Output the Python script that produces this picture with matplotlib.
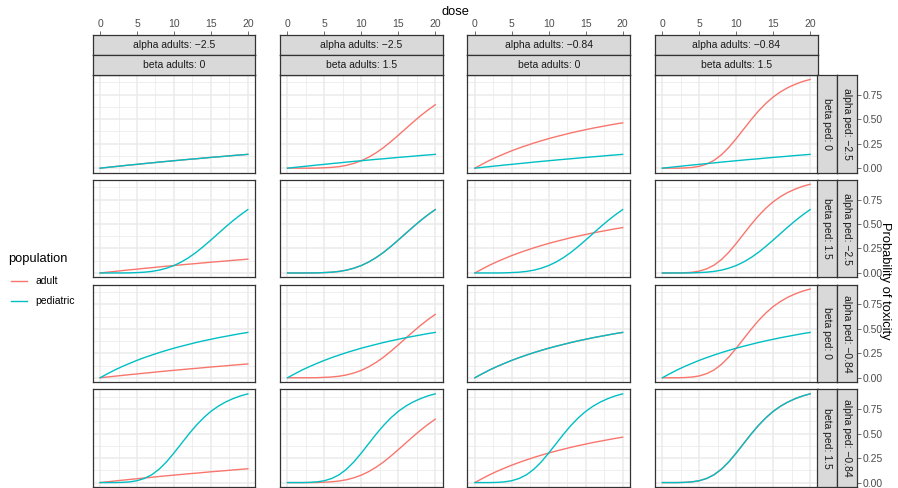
import numpy as np
import matplotlib.pyplot as plt
from matplotlib.lines import Line2D

plt.rcParams['font.family'] = ['Liberation Sans', 'DejaVu Sans']

# dose grid and toxicity curves for each (alpha, beta) combination
dose = list(range(0, 21))
p_a25_b0 = [0.000, 0.008, 0.016, 0.024, 0.032, 0.039, 0.047, 0.054, 0.062, 0.069, 0.076,
            0.083, 0.090, 0.096, 0.103, 0.110, 0.116, 0.122, 0.129, 0.135, 0.141]
p_a25_b15 = [0.000, 0.000, 0.000, 0.000, 0.001, 0.004, 0.008, 0.016, 0.029, 0.049, 0.076,
             0.112, 0.157, 0.210, 0.271, 0.336, 0.403, 0.470, 0.534, 0.593, 0.647]
p_a084_b0 = [0.000, 0.041, 0.080, 0.115, 0.147, 0.178, 0.206, 0.232, 0.257, 0.280, 0.302,
             0.322, 0.341, 0.360, 0.377, 0.393, 0.409, 0.423, 0.437, 0.451, 0.463]
p_a084_b15 = [0.000, 0.000, 0.000, 0.002, 0.007, 0.019, 0.042, 0.080, 0.137, 0.212, 0.302,
              0.398, 0.494, 0.583, 0.661, 0.727, 0.780, 0.823, 0.857, 0.885, 0.906]

alpha_levels = ['\u22122.5', '\u22122.5', '\u22120.84', '\u22120.84']
beta_levels = ['0', '1.5', '0', '1.5']
curves = [p_a25_b0, p_a25_b15, p_a084_b0, p_a084_b15]

adult_col = '#F8766D'
ped_col = '#00BFC4'
dark = '#333333'
W, H = 898, 488


def box(x0, y0, x1, y1):
    # pixel box (top-left origin) -> figure fraction rect
    return [x0 / W, 1 - y1 / H, (x1 - x0) / W, (y1 - y0) / H]


fig = plt.figure(figsize=(W / 100, H / 100), dpi=100)

col_left = [92.7, 280.1, 467.5, 655.0]
pw = 162.5
row_top = [75.0, 179.8, 284.6, 389.4]
ph = 97.6
xlim = (-1, 21)
ylim = (-0.0453, 0.9514)
fs = 7.5
fs_title = 9.3

for i in range(4):
    for j in range(4):
        x0, y0 = col_left[j], row_top[i]
        ax = fig.add_axes(box(x0, y0, x0 + pw, y0 + ph))
        ax.set_xlim(xlim)
        ax.set_ylim(ylim)
        ax.set_xticks([0, 5, 10, 15, 20])
        ax.set_xticks([2.5, 7.5, 12.5, 17.5], minor=True)
        ax.set_yticks([0, 0.25, 0.5, 0.75])
        ax.set_yticks([0.125, 0.375, 0.625, 0.875], minor=True)
        ax.grid(which='major', color='#EBEBEB', linewidth=1.1)
        ax.grid(which='minor', color='#EBEBEB', linewidth=0.55)
        ax.set_axisbelow(True)
        ax.tick_params(which='both', length=0, labelbottom=False, labelleft=False)
        for s in ax.spines.values():
            s.set_color(dark)
            s.set_linewidth(0.9)
        ax.plot(dose, curves[j], color=adult_col, linewidth=1.0)
        ax.plot(dose, curves[i], color=ped_col, linewidth=1.0)

# top strips and dose ticks
for j in range(4):
    x0 = col_left[j]
    for lab, y0 in [('alpha adults: ' + alpha_levels[j], 35.0),
                    ('beta adults: ' + beta_levels[j], 55.0)]:
        sx = fig.add_axes(box(x0, y0, x0 + pw, y0 + 20))
        sx.set_facecolor('#D9D9D9')
        sx.set_xticks([])
        sx.set_yticks([])
        for s in sx.spines.values():
            s.set_color(dark)
            s.set_linewidth(0.9)
        sx.text(0.5, 0.5, lab, ha='center', va='center', fontsize=fs, color='#1A1A1A',
                transform=sx.transAxes)
    tx = fig.add_axes(box(x0, 34.5, x0 + pw, 35.0))
    tx.set_xlim(xlim)
    tx.set_xticks([0, 5, 10, 15, 20])
    tx.set_yticks([])
    tx.patch.set_visible(False)
    for s in tx.spines.values():
        s.set_visible(False)
    tx.tick_params(axis='x', top=True, bottom=False, labeltop=True, labelbottom=False,
                   length=2.8, width=0.5, color=dark, labelsize=fs, labelcolor='#4D4D4D', pad=1.0)

# right strips and probability ticks
for i in range(4):
    y0 = row_top[i]
    for lab, x0 in [('beta ped: ' + beta_levels[i], 817.3), ('alpha ped: ' + alpha_levels[i], 837.0)]:
        sx = fig.add_axes(box(x0, y0, x0 + 19.7, y0 + ph))
        sx.set_facecolor('#D9D9D9')
        sx.set_xticks([])
        sx.set_yticks([])
        for s in sx.spines.values():
            s.set_color(dark)
            s.set_linewidth(0.9)
        sx.text(0.5, 0.5, lab, ha='center', va='center', fontsize=fs, color='#1A1A1A',
                rotation=-90, transform=sx.transAxes)
    ty = fig.add_axes(box(856.7, y0, 857.2, y0 + ph))
    ty.set_ylim(ylim)
    ty.set_yticks([0, 0.25, 0.5, 0.75])
    ty.set_yticklabels(['0.00', '0.25', '0.50', '0.75'])
    ty.set_xticks([])
    ty.patch.set_visible(False)
    for s in ty.spines.values():
        s.set_visible(False)
    ty.tick_params(axis='y', right=True, left=False, labelright=True, labelleft=False,
                   length=2.8, width=0.5, color=dark, labelsize=fs, labelcolor='#4D4D4D', pad=1.0)

fig.text(455 / W, 1 - 12 / H, 'dose', ha='center', va='center', fontsize=fs_title)
fig.text(885 / W, 1 - 281 / H, 'Probability of toxicity', ha='center', va='center',
         rotation=-90, fontsize=fs_title)

# legend
fig.text(8 / W, 1 - 259 / H, 'population', ha='left', va='center', fontsize=fs_title)
for lab, col, yy in [('adult', adult_col, 281), ('pediatric', ped_col, 301)]:
    fig.add_artist(Line2D([11 / W, 27 / W], [1 - yy / H, 1 - yy / H], color=col,
                          linewidth=1.0, transform=fig.transFigure))
    fig.text(35 / W, 1 - yy / H, lab, ha='left', va='center', fontsize=fs)

fig.savefig('out.png', dpi=100)
